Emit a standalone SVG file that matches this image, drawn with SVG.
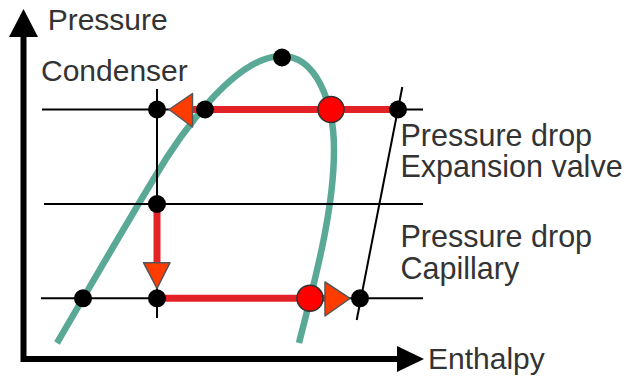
<svg xmlns="http://www.w3.org/2000/svg" width="641" height="376" viewBox="0 0 641 376">
<style>
.t{font-family:"Liberation Sans",Arial,sans-serif;fill:#333;font-size:30px;}
.r{font-size:30.5px;}
.thin{stroke:#000;stroke-width:2;fill:none;}
.red{stroke:#e32228;stroke-width:7;fill:none;}
.dot{fill:#000;}
.rc{fill:#ff0000;stroke:#333;stroke-width:1.5;}
.tri{fill:#ff3c00;stroke:#555;stroke-width:1.5;stroke-linejoin:round;}
</style>
<rect width="641" height="376" fill="#fff"/>
<g id="axes">
<path d="M23.5,36 V359 H398" fill="none" stroke="#000" stroke-width="6"/>
<polygon points="23.5,9 38,37 9,37" fill="#000"/>
<polygon points="424,359 397,346 397,372" fill="#000"/>
</g>
<g id="saturation-curve">
<path d="M57,343 C85,295 125,226 153,180 C180,134 235,56 282,56 C315,56 334,100 334,150 C334,210 315,280 299,343" fill="none" stroke="#5aa896" stroke-width="6.5"/>
</g>
<g id="connectors">
<line class="thin" x1="42" y1="109.5" x2="423" y2="109.5"/>
<line class="thin" x1="44" y1="204" x2="423" y2="204"/>
<line class="thin" x1="41" y1="298.3" x2="423" y2="298.3"/>
<line class="thin" x1="157" y1="89" x2="157" y2="318"/>
<line class="thin" x1="402.3" y1="87" x2="356.7" y2="320"/>
<line class="red" x1="193" y1="109.5" x2="398" y2="109.5"/>
<line class="red" x1="157" y1="204" x2="157" y2="263"/>
<line class="red" x1="157" y1="298.3" x2="326" y2="298.3"/>
<polygon class="tri" points="169,109.5 192.5,93.5 192.5,127"/>
<polygon class="tri" points="157,288.5 143.5,262.7 170,262.7"/>
<polygon class="tri" points="350,298.3 325,282 325,316"/>
</g>
<g id="points">
<circle class="dot" cx="157" cy="109.5" r="9"/>
<circle class="dot" cx="205" cy="109.5" r="9"/>
<circle class="dot" cx="282" cy="57.5" r="9"/>
<circle class="dot" cx="398" cy="109.5" r="9"/>
<circle class="dot" cx="157" cy="204" r="9"/>
<circle class="dot" cx="83" cy="298.3" r="9"/>
<circle class="dot" cx="157" cy="298.3" r="9"/>
<circle class="dot" cx="360" cy="298.3" r="9"/>
<circle class="rc" cx="331" cy="109.5" r="13"/>
<circle class="rc" cx="310" cy="298.3" r="13"/>
</g>
<g id="labels">
<text class="t" x="47.7" y="30">Pressure</text>
<text class="t" x="41" y="80.5">Condenser</text>
<text class="t r" x="400.5" y="146">Pressure drop</text>
<text class="t r" x="400.5" y="177.3">Expansion valve</text>
<text class="t r" x="400.5" y="247.3">Pressure drop</text>
<text class="t r" x="400.5" y="279.3">Capillary</text>
<text class="t" x="428" y="368.5">Enthalpy</text>
</g>
</svg>
